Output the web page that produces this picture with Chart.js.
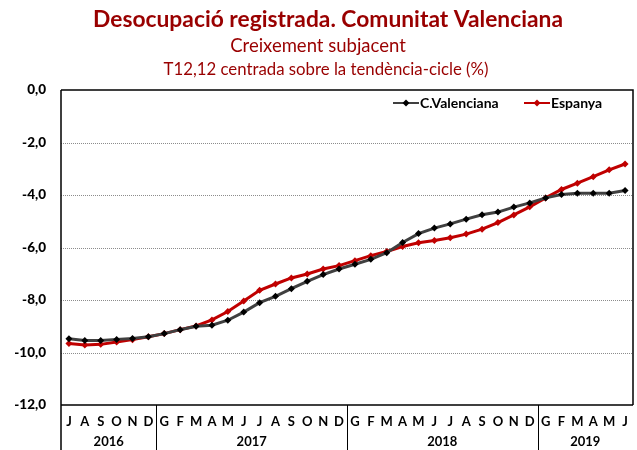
<!DOCTYPE html>
<html>
<head>
<meta charset="utf-8">
<script src="https://cdn.jsdelivr.net/npm/chart.js@4.4.0/dist/chart.umd.min.js"></script>
<style>
  html, body { margin: 0; padding: 0; background: #fff; }
  #wrap { width: 637px; height: 450px; }
</style>
</head>
<body>
<div id="wrap"><canvas id="myChart" width="637" height="450"></canvas></div>
<script>
// data block
const months = ["J","A","S","O","N","D",
  "G","F","M","A","M","J","J","A","S","O","N","D",
  "G","F","M","A","M","J","J","A","S","O","N","D",
  "G","F","M","A","M","J"];
const years = ["2016", "2017", "2018", "2019"];
const yearSizes = [6, 12, 12, 6];
const valenciana = [-9.48, -9.54, -9.54, -9.50, -9.47, -9.40,
  -9.28, -9.13, -9.00, -8.96, -8.77, -8.46, -8.10, -7.86, -7.57, -7.29, -7.03, -6.82,
  -6.64, -6.45, -6.20, -5.81, -5.47, -5.26, -5.10, -4.92, -4.75, -4.65, -4.46, -4.30,
  -4.11, -3.98, -3.93, -3.93, -3.93, -3.83];
const espanya = [-9.66, -9.71, -9.69, -9.60, -9.51, -9.40,
  -9.28, -9.13, -8.99, -8.76, -8.44, -8.04, -7.63, -7.39, -7.16, -7.01, -6.82, -6.69,
  -6.50, -6.31, -6.15, -5.96, -5.82, -5.73, -5.63, -5.49, -5.30, -5.05, -4.76, -4.45,
  -4.11, -3.79, -3.55, -3.30, -3.04, -2.82];
const yTicks = [0, -2, -4, -6, -8, -10, -12];

const titleColor = "#990000";
const fontFam = "Lato, 'Liberation Sans', sans-serif";

// draws titles, grid, frame, year labels and legend
const decor = {
  id: "decor",
  beforeDatasetsDraw(chart) {
    const { ctx, chartArea: a, scales } = chart;
    const y = scales.y;
    ctx.save();
    ctx.strokeStyle = "#8c8c8c";
    ctx.lineWidth = 1;
    ctx.setLineDash([1, 1]);
    yTicks.forEach(v => {
      if (v === 0 || v === -12) return;
      const py = Math.round(y.getPixelForValue(v)) + 0.5;
      ctx.beginPath();
      ctx.moveTo(a.left, py);
      ctx.lineTo(a.right, py);
      ctx.stroke();
    });
    ctx.restore();
  },
  afterDraw(chart) {
    const { ctx, chartArea: a, scales } = chart;
    const x = scales.x;
    ctx.save();
    // frame
    ctx.strokeStyle = "#000";
    ctx.lineWidth = 1.5;
    ctx.beginPath();
    ctx.moveTo(a.left, a.top);
    ctx.lineTo(a.right, a.top);
    ctx.lineTo(a.right, a.bottom);
    ctx.stroke();
    ctx.beginPath();
    ctx.moveTo(a.left, a.top);
    ctx.lineTo(a.left, 450);
    ctx.moveTo(a.left, a.bottom);
    ctx.lineTo(a.right, a.bottom);
    ctx.stroke();
    // year separators and labels
    ctx.lineWidth = 1;
    ctx.font = "bold 13px " + fontFam;
    ctx.fillStyle = "#000";
    ctx.textAlign = "center";
    ctx.textBaseline = "middle";
    let start = 0;
    let leftX = a.left;
    years.forEach((yr, i) => {
      const end = start + yearSizes[i] - 1;
      const rightX = end < months.length - 1
        ? (x.getPixelForValue(end) + x.getPixelForValue(end + 1)) / 2
        : a.right;
      if (end < months.length - 1) {
        ctx.beginPath();
        ctx.moveTo(Math.round(rightX) + 0.5, a.bottom);
        ctx.lineTo(Math.round(rightX) + 0.5, 450);
        ctx.stroke();
      }
      ctx.fillText(yr, (leftX + rightX) / 2, 442);
      leftX = rightX;
      start = end + 1;
    });
    // titles
    ctx.fillStyle = titleColor;
    ctx.font = "bold 22.8px " + fontFam;
    ctx.fillText("Desocupació registrada. Comunitat Valenciana", 328, 20);
    ctx.font = "18.5px " + fontFam;
    ctx.fillText("Creixement subjacent", 318, 46);
    ctx.font = "16.8px " + fontFam;
    ctx.fillText("T12,12 centrada sobre la tendència-cicle (%)", 326, 70);
    // legend
    const items = [[0, 393], [1, 524]];
    ctx.font = "bold 14px " + fontFam;
    ctx.textAlign = "left";
    items.forEach(([di, lx]) => {
      const ds = chart.data.datasets[di];
      const ly = 103;
      ctx.strokeStyle = ds.borderColor;
      ctx.lineWidth = 2;
      ctx.beginPath();
      ctx.moveTo(lx, ly);
      ctx.lineTo(lx + 26, ly);
      ctx.stroke();
      ctx.fillStyle = ds.pointBackgroundColor;
      ctx.beginPath();
      ctx.moveTo(lx + 13, ly - 3.5);
      ctx.lineTo(lx + 16.5, ly);
      ctx.lineTo(lx + 13, ly + 3.5);
      ctx.lineTo(lx + 9.5, ly);
      ctx.closePath();
      ctx.fill();
      ctx.fillStyle = "#000";
      ctx.fillText(ds.label, lx + 27, ly);
    });
    ctx.restore();
  }
};

const config = {
  type: "line",
  data: {
    labels: months,
    datasets: [
      {
        label: "C.Valenciana",
        data: valenciana,
        borderColor: "#404040",
        borderWidth: 3,
        pointStyle: "rectRot",
        pointRadius: 3.5,
        pointBackgroundColor: "#000",
        pointBorderColor: "#000",
        pointBorderWidth: 0,
        tension: 0
      },
      {
        label: "Espanya",
        data: espanya,
        borderColor: "#c00000",
        borderWidth: 3,
        pointStyle: "rectRot",
        pointRadius: 3.5,
        pointBackgroundColor: "#c00000",
        pointBorderColor: "#c00000",
        pointBorderWidth: 0,
        tension: 0
      }
    ]
  },
  options: {
    responsive: false,
    animation: false,
    layout: { padding: { top: 90, right: 1, left: 0, bottom: 0 } },
    plugins: {
      legend: { display: false },
      title: { display: false },
      tooltip: { enabled: false }
    },
    scales: {
      x: {
        offset: true,
        grid: { display: false, drawTicks: false },
        border: { display: false },
        ticks: {
          autoSkip: false,
          maxRotation: 0,
          padding: 9,
          color: "#000",
          font: { family: fontFam, weight: "bold", size: 13 }
        },
        afterFit(scale) { scale.height = 45; }
      },
      y: {
        min: -12,
        max: 0,
        grid: { display: false, drawTicks: false },
        border: { display: false },
        ticks: {
          stepSize: 2,
          padding: 15,
          color: "#000",
          font: { family: fontFam, weight: "900", size: 13.5 },
          callback: v => v.toFixed(1).replace(".", ",")
        },
        afterFit(scale) { scale.width = 61; }
      }
    }
  },
  plugins: [decor]
};

const ctx = document.getElementById("myChart");
const myChart = new Chart(ctx, config);
</script>
</body>
</html>
